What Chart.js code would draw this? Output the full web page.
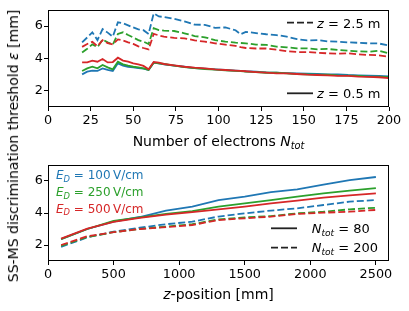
<!DOCTYPE html>
<html>
<head>
<meta charset="utf-8">
<script src="https://cdn.jsdelivr.net/npm/chart.js@4.4.1/dist/chart.umd.min.js"></script>
<style>
  body { margin: 0; background: #fff; }
  #wrap { position: relative; width: 409px; height: 311px; overflow: hidden; }
  canvas { position: absolute; left: 0; }
  #c1 { top: 0; }
  #c2 { top: 155px; }
  #ylab {
    position: absolute; left: 13px; top: 146px;
    transform: translate(-50%, -50%) rotate(-90deg);
    white-space: nowrap; font: 14px 'DejaVu Sans'; color: #000;
  }
</style>
</head>
<body>
<div id="wrap">
  <canvas id="c1" width="409" height="155"></canvas>
  <canvas id="c2" width="409" height="156"></canvas>
  <div id="ylab">SS-MS discrimination threshold <i>ε</i> [mm]</div>
</div>
<script>
// oben: Schwelle gegen Elektronenzahl
const nTot = [20, 23, 26, 29, 32, 35, 38, 41, 44, 47, 50, 53, 56, 59, 62, 65, 68, 74, 80, 86,
              92, 98, 104, 110, 113, 116, 122, 128, 134, 140, 146, 152, 158, 164, 170, 176, 182, 188, 194, 200];

const thr100_z05 = [3.02, 3.19, 3.25, 3.23, 3.39, 3.29, 3.23, 3.70, 3.56, 3.49, 3.45, 3.41, 3.37, 3.29, 3.74, 3.70, 3.64, 3.56, 3.49, 3.41,
                    3.37, 3.33, 3.29, 3.25, 3.23, 3.21, 3.19, 3.14, 3.12, 3.10, 3.08, 3.06, 3.04, 3.02, 3.02, 2.98, 2.96, 2.94, 2.92, 2.90];
const thr250_z05 = [3.23, 3.39, 3.49, 3.39, 3.60, 3.45, 3.33, 3.80, 3.64, 3.56, 3.49, 3.45, 3.39, 3.29, 3.74, 3.70, 3.66, 3.56, 3.47, 3.41,
                    3.35, 3.31, 3.27, 3.23, 3.22, 3.19, 3.16, 3.12, 3.12, 3.08, 3.04, 3.02, 3.00, 3.00, 2.96, 2.94, 2.92, 2.88, 2.88, 2.84];
const thr500_z05 = [3.76, 3.76, 3.87, 3.80, 3.97, 3.76, 3.78, 4.05, 3.87, 3.80, 3.70, 3.64, 3.54, 3.33, 3.78, 3.74, 3.66, 3.58, 3.49, 3.43,
                    3.39, 3.33, 3.29, 3.25, 3.23, 3.21, 3.16, 3.12, 3.08, 3.08, 3.04, 3.00, 2.98, 2.96, 2.92, 2.92, 2.88, 2.86, 2.84, 2.79];

const thr100_z25 = [5.00, 5.30, 5.62, 5.14, 5.82, 5.60, 5.35, 6.24, 6.18, 6.05, 5.92, 5.80, 5.75, 5.52, 6.79, 6.60, 6.57, 6.45, 6.30, 6.10,
                    6.08, 5.90, 5.92, 5.75, 5.50, 5.65, 5.57, 5.50, 5.45, 5.35, 5.20, 5.12, 5.14, 5.06, 5.04, 5.00, 4.97, 4.94, 4.93, 4.80];
const thr250_z25 = [4.37, 4.60, 4.87, 4.70, 5.17, 5.00, 4.86, 5.52, 5.62, 5.45, 5.30, 5.14, 5.04, 4.90, 5.87, 5.76, 5.72, 5.70, 5.56, 5.39,
                    5.31, 5.14, 5.04, 4.98, 4.96, 4.94, 4.86, 4.84, 4.73, 4.69, 4.63, 4.63, 4.57, 4.59, 4.53, 4.48, 4.44, 4.42, 4.48, 4.32];
const thr500_z25 = [4.72, 4.90, 5.03, 4.76, 5.13, 4.95, 4.87, 5.18, 5.12, 5.00, 4.90, 4.75, 4.65, 4.56, 5.52, 5.43, 5.35, 5.27, 5.25, 5.12,
                    5.04, 4.94, 4.86, 4.78, 4.70, 4.65, 4.62, 4.62, 4.55, 4.45, 4.40, 4.40, 4.36, 4.32, 4.30, 4.32, 4.26, 4.22, 4.20, 4.11];

// unten: Schwelle gegen z-Position
const zPos = [100, 300, 500, 700, 900, 1100, 1300, 1500, 1700, 1900, 2100, 2300, 2500];

const thr100_N80  = [2.37, 3.00, 3.46, 3.75, 4.15, 4.40, 4.80, 5.02, 5.30, 5.48, 5.78, 6.05, 6.25];
const thr250_N80  = [2.37, 3.00, 3.50, 3.72, 3.95, 4.12, 4.40, 4.60, 4.81, 5.02, 5.23, 5.40, 5.56];
const thr500_N80  = [2.40, 3.02, 3.45, 3.70, 3.90, 4.05, 4.23, 4.40, 4.60, 4.77, 4.96, 5.10, 5.23];
const thr100_N200 = [1.88, 2.48, 2.83, 3.08, 3.30, 3.46, 3.78, 3.98, 4.15, 4.29, 4.50, 4.71, 4.81];
const thr250_N200 = [1.95, 2.50, 2.80, 3.00, 3.15, 3.30, 3.60, 3.73, 3.81, 3.98, 4.08, 4.23, 4.33];
const thr500_N200 = [2.00, 2.55, 2.80, 3.00, 3.12, 3.25, 3.56, 3.67, 3.77, 3.94, 4.02, 4.08, 4.19];

const ticksN = [0, 25, 50, 75, 100, 125, 150, 175, 200];
const ticksZ = [0, 500, 1000, 1500, 2000, 2500];
const ticksY = [2, 4, 6];

const fieldLabels = ['100', '250', '500'];

const BLUE = '#1f77b4', GREEN = '#2ca02c', RED = '#d62728';
const DASH = [7, 3];
const FONT = 'DejaVu Sans';

function richText(ctx, runs, x, y, size, color) {
  const fontOf = k => k === 's' ? `italic ${size * 0.7}px '${FONT}'`
                    : k === 'i' ? `italic ${size}px '${FONT}'` : `${size}px '${FONT}'`;
  let w = 0;
  for (const [t, k] of runs) { ctx.font = fontOf(k); w += ctx.measureText(t).width; }
  return { w, draw(align) {
    let cx = align === 'center' ? x - w / 2 : x;
    ctx.fillStyle = color;
    ctx.textBaseline = 'alphabetic';
    ctx.textAlign = 'left';
    for (const [t, k] of runs) {
      ctx.font = fontOf(k);
      ctx.fillText(t, cx, k === 's' ? y + size * 0.22 : y);
      cx += ctx.measureText(t).width;
    }
  }};
}

const decor = {
  id: 'decor',
  afterDatasetsDraw(chart) {
    const { ctx, chartArea: a } = chart;
    const o = chart.options.plugins.decor;
    ctx.save();
    // Rahmen
    ctx.strokeStyle = '#000';
    ctx.lineWidth = 1;
    ctx.strokeRect(a.left + 0.5, a.top + 0.5, a.right - a.left - 1, a.bottom - a.top - 1);
    // Legendenlinien
    for (const h of o.handles) {
      ctx.beginPath();
      ctx.setLineDash(h.dash ? DASH : []);
      ctx.strokeStyle = '#222';
      ctx.lineWidth = 1.8;
      ctx.moveTo(h.x1, h.y);
      ctx.lineTo(h.x2, h.y);
      ctx.stroke();
    }
    ctx.setLineDash([]);
    for (const t of o.texts) {
      richText(ctx, t.runs, t.x, t.y, t.size, t.color || '#000').draw(t.align);
    }
    // Achsentitel
    richText(ctx, o.xTitle, (a.left + a.right) / 2, o.xTitleY, 14, '#000').draw('center');
    ctx.restore();
  }
};

function axis(min, max, ticks, isY, size) {
  return {
    type: 'linear', min, max,
    afterBuildTicks: s => { s.ticks = ticks.map(v => ({ value: v })); },
    afterFit: s => { if (isY) s.width = size; else s.height = size; },
    grid: { display: true, drawOnChartArea: false, drawTicks: true, tickLength: 4, color: '#000', lineWidth: 1 },
    border: { display: false },
    ticks: { color: '#000', font: { family: FONT, size: 12.8 }, padding: isY ? 1 : 2,
             maxRotation: 0, autoSkip: false, callback: v => String(v) }
  };
}

function series(xs, ys, color, dashed, order) {
  return {
    data: xs.map((x, i) => ({ x, y: ys[i] })),
    borderColor: color, backgroundColor: color,
    borderWidth: 1.8, borderDash: dashed ? DASH : [],
    pointRadius: 0, tension: 0, fill: false, order
  };
}

const baseOpts = {
  responsive: false,
  animation: false,
  events: [],
  plugins: { legend: { display: false }, tooltip: { enabled: false } }
};

new Chart(document.getElementById('c1'), {
  type: 'line',
  data: {
    datasets: [
      series(nTot, thr100_z05, BLUE, false, 6),
      series(nTot, thr250_z05, GREEN, false, 5),
      series(nTot, thr500_z05, RED, false, 4),
      series(nTot, thr100_z25, BLUE, true, 3),
      series(nTot, thr250_z25, GREEN, true, 2),
      series(nTot, thr500_z25, RED, true, 1)
    ]
  },
  options: {
    ...baseOpts,
    layout: { padding: { top: 10, right: 20, left: 0, bottom: 0 } },
    scales: {
      x: axis(0, 200, ticksN, false, 48),
      y: axis(1, 7, ticksY, true, 48)
    },
    plugins: {
      ...baseOpts.plugins,
      decor: {
        xTitleY: 146,
        xTitle: [['Number of electrons ', 'r'], ['N', 'i'], ['tot', 's']],
        handles: [
          { x1: 287, x2: 313, y: 22.7, dash: true },
          { x1: 287, x2: 313, y: 93.3, dash: false }
        ],
        texts: [
          { x: 317, y: 27.5, size: 13, runs: [['z', 'i'], [' = 2.5 m', 'r']] },
          { x: 317, y: 98, size: 13, runs: [['z', 'i'], [' = 0.5 m', 'r']] }
        ]
      }
    }
  },
  plugins: [decor]
});

new Chart(document.getElementById('c2'), {
  type: 'line',
  data: {
    datasets: [
      series(zPos, thr100_N80, BLUE, false, 6),
      series(zPos, thr250_N80, GREEN, false, 5),
      series(zPos, thr500_N80, RED, false, 4),
      series(zPos, thr100_N200, BLUE, true, 3),
      series(zPos, thr250_N200, GREEN, true, 2),
      series(zPos, thr500_N200, RED, true, 1)
    ]
  },
  options: {
    ...baseOpts,
    layout: { padding: { top: 10, right: 20, left: 0, bottom: 0 } },
    scales: {
      x: axis(0, 2600, ticksZ, false, 50),
      y: axis(1, 7, ticksY, true, 48)
    },
    plugins: {
      ...baseOpts.plugins,
      decor: {
        xTitleY: 144.3,
        xTitle: [['z', 'i'], ['-position [mm]', 'r']],
        handles: [
          { x1: 271, x2: 297, y: 73.3, dash: false },
          { x1: 271, x2: 297, y: 92.7, dash: true }
        ],
        texts: [
          { x: 56, y: 24, size: 12, color: BLUE, runs: [['E', 'i'], ['D', 's'], [' = ' + fieldLabels[0] + '\u2009V/cm', 'r']] },
          { x: 56, y: 41, size: 12, color: GREEN, runs: [['E', 'i'], ['D', 's'], [' = ' + fieldLabels[1] + '\u2009V/cm', 'r']] },
          { x: 56, y: 57.7, size: 12, color: RED, runs: [['E', 'i'], ['D', 's'], [' = ' + fieldLabels[2] + '\u2009V/cm', 'r']] },
          { x: 311.7, y: 77.7, size: 13, runs: [['N', 'i'], ['tot', 's'], [' = 80', 'r']] },
          { x: 311.7, y: 96.7, size: 13, runs: [['N', 'i'], ['tot', 's'], [' = 200', 'r']] }
        ]
      }
    }
  },
  plugins: [decor]
});
</script>
</body>
</html>
